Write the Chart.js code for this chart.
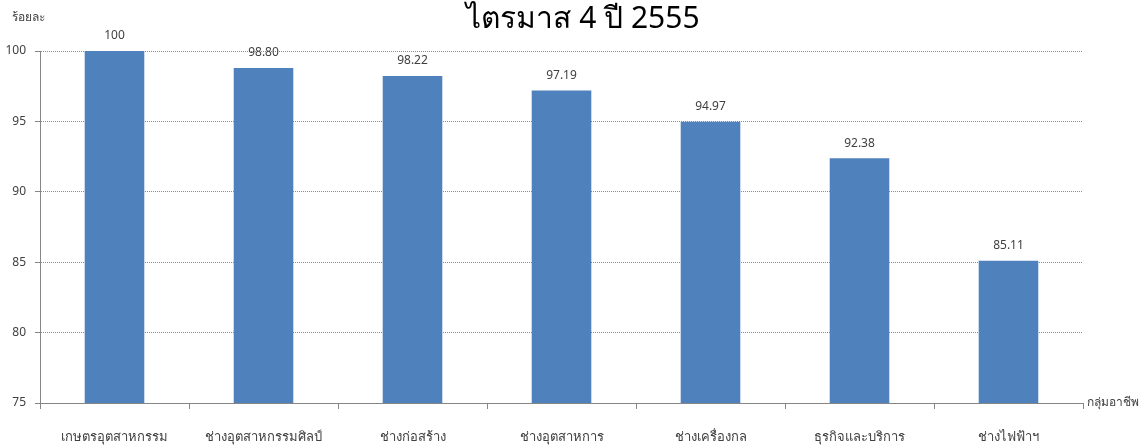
<!DOCTYPE html>
<html>
<head>
<meta charset="utf-8">
<script src="https://cdn.jsdelivr.net/npm/chart.js@4"></script>
<style>
  body { margin: 0; background: #fff; }
  #wrap { width: 1144px; height: 446px; }
</style>
</head>
<body>
<div id="wrap"><canvas id="myChart"></canvas></div>
<script>
var categories = ["เกษตรอุตสาหกรรม", "ช่างอุตสาหกรรมศิลป์", "ช่างก่อสร้าง", "ช่างอุตสาหการ", "ช่างเครื่องกล", "ธุรกิจและบริการ", "ช่างไฟฟ้าฯ"];
var values = [100, 98.80, 98.22, 97.19, 94.97, 92.38, 85.11];
var valueLabels = ["100", "98.80", "98.22", "97.19", "94.97", "92.38", "85.11"];
var chartTitle = "ไตรมาส 4 ปี 2555";
var yTitle = "ร้อยละ";
var xTitle = "กลุ่มอาชีพ";

var FONT = "'Noto Sans', 'DejaVu Sans', sans-serif";
var TEXT = "#404040";

// title, numbers above bars and the two axis captions
var labelsPlugin = {
  id: "barLabels",
  afterDatasetsDraw: function(chart) {
    var ctx = chart.ctx;
    var area = chart.chartArea;
    ctx.save();
    ctx.fillStyle = "#000";
    ctx.font = "30px " + FONT;
    ctx.textAlign = "center";
    ctx.textBaseline = "middle";
    ctx.fillText(chartTitle, 583, 19);

    ctx.fillStyle = TEXT;
    ctx.font = "12px " + FONT;
    ctx.textBaseline = "bottom";
    chart.getDatasetMeta(0).data.forEach(function(bar, i) {
      ctx.fillText(valueLabels[i], bar.x, bar.y - 9);
    });
    ctx.font = "12px " + FONT;
    ctx.textAlign = "left";
    ctx.textBaseline = "middle";
    ctx.fillText(yTitle, 12, 18);
    ctx.fillText(xTitle, area.right + 4, area.bottom);
    ctx.restore();
  }
};

var ctx = document.getElementById("myChart").getContext("2d");
var myChart = new Chart(ctx, {
  type: "bar",
  data: {
    labels: categories,
    datasets: [{
      data: values,
      backgroundColor: "#4f81bd",
      barPercentage: 0.4,
      categoryPercentage: 1.0
    }]
  },
  options: {
    responsive: true,
    maintainAspectRatio: false,
    animation: false,
    layout: { padding: { left: 0, right: 61, top: 51, bottom: 0 } },
    plugins: {
      legend: { display: false },
      tooltip: { enabled: false },
      title: { display: false }
    },
    scales: {
      x: {
        grid: { offset: true, drawOnChartArea: false, drawTicks: true, tickLength: 6, color: "#868686" },
        border: { color: "#868686", width: 1 },
        ticks: { color: TEXT, font: { family: FONT, size: 13 }, padding: 20, maxRotation: 0 },
        afterFit: function(scale) { scale.height = 43; }
      },
      y: {
        min: 75,
        max: 100,
        ticks: { stepSize: 5, color: TEXT, font: { family: FONT, size: 12 }, padding: 9 },
        grid: { color: "#8c8c8c", tickLength: 5, tickColor: "#868686" },
        border: { color: "#868686", width: 1, dash: [1, 1] },
        afterFit: function(scale) { scale.width = 40; }
      }
    }
  },
  plugins: [labelsPlugin]
});
</script>
</body>
</html>
